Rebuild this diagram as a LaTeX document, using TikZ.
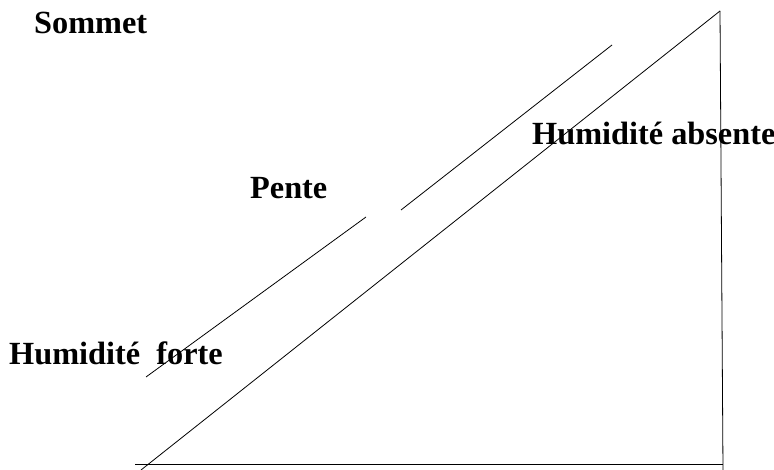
\documentclass[tikz,border=0pt]{standalone}
\usepackage{fontspec}
\setmainfont{Liberation Serif}
\begin{document}
\begin{tikzpicture}[x=1pt,y=-1pt,
  lbl/.style={anchor=base west,inner sep=0pt,font=\fontsize{32.3}{37}\selectfont\bfseries},
  ln/.style={line width=0.8pt,black}]
\useasboundingbox (0,0) rectangle (774,470);
% triangle
\coordinate (top) at (720,11);
\coordinate (hypend) at (141,470);
\coordinate (vend) at (723,470);
\coordinate (bl) at (135,464);
\coordinate (br) at (723,464);
\draw[ln] (top) -- (hypend);
\draw[ln] (top) -- (vend);
\draw[ln] (bl) -- (br);
% broken parallel line
\coordinate (a1) at (146,377);
\coordinate (a2) at (366,217);
\coordinate (b1) at (401,210);
\coordinate (b2) at (612,45);
\draw[ln] (a1) -- (a2);
\draw[ln] (b1) -- (b2);
% labels
\node[lbl] (sommet) at (34,34) {Sommet};
\node[lbl] (abs) at (532,145) {Humidité absente};
\node[lbl] (pente) at (250,199) {Pente};
\node[lbl] (forte) at (9,364) {Humidité\ \ forte};
\end{tikzpicture}
\end{document}
